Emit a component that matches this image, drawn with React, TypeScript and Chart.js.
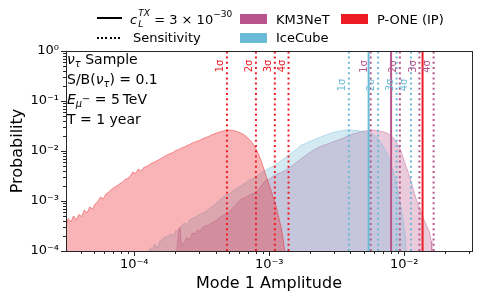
import React, { useEffect, useRef } from 'react';
import { Chart, registerables } from 'chart.js';

Chart.register(...registerables);

const FONT = '"DejaVu Sans", "Liberation Sans", sans-serif';

// Axis ranges
const X_MIN = 3.12e-5;
const X_MAX = 3.18e-2;
const Y_MIN = 1e-4;
const Y_MAX = 1;

// Histograms: [log10(Mode 1 amplitude), log10(probability)]
const PONE_HIST: [number, number][] = [
  [-4.506, -3.52], [-4.49, -3.35], [-4.47, -3.42], [-4.45, -3.30], [-4.43, -3.38], [-4.41, -3.27],
  [-4.39, -3.31], [-4.37, -3.18], [-4.35, -3.24], [-4.33, -3.12], [-4.31, -3.16], [-4.29, -3.06],
  [-4.27, -3.01], [-4.25, -2.92], [-4.23, -2.96], [-4.21, -2.86], [-4.19, -2.82], [-4.17, -2.77],
  [-4.15, -2.73], [-4.13, -2.70], [-4.11, -2.66], [-4.09, -2.63], [-4.07, -2.57], [-4.05, -2.55],
  [-4.03, -2.50], [-4.01, -2.42], [-3.99, -2.45], [-3.97, -2.36], [-3.95, -2.40], [-3.93, -2.33],
  [-3.91, -2.31], [-3.89, -2.28], [-3.87, -2.24], [-3.85, -2.22], [-3.83, -2.19], [-3.81, -2.16],
  [-3.79, -2.13], [-3.77, -2.10], [-3.75, -2.07], [-3.73, -2.05], [-3.71, -2.02], [-3.69, -1.99],
  [-3.67, -1.97], [-3.65, -1.94], [-3.63, -1.92], [-3.61, -1.89], [-3.59, -1.87], [-3.57, -1.84],
  [-3.55, -1.82], [-3.53, -1.80], [-3.51, -1.78], [-3.49, -1.75], [-3.47, -1.73], [-3.45, -1.71],
  [-3.43, -1.68], [-3.41, -1.66], [-3.39, -1.64], [-3.37, -1.62], [-3.35, -1.61], [-3.33, -1.59],
  [-3.31, -1.58], [-3.29, -1.58], [-3.27, -1.59], [-3.25, -1.60], [-3.23, -1.62], [-3.21, -1.64],
  [-3.19, -1.67], [-3.17, -1.71], [-3.15, -1.76], [-3.13, -1.82], [-3.11, -1.90], [-3.09, -2.00],
  [-3.07, -2.12], [-3.05, -2.27], [-3.03, -2.44], [-3.01, -2.60], [-2.99, -2.76], [-2.97, -2.92],
  [-2.95, -3.10], [-2.93, -3.32], [-2.91, -3.55], [-2.895, -3.80], [-2.885, -4.0],
];

const ICECUBE_HIST: [number, number][] = [
  [-3.89, -4.0], [-3.88, -3.93], [-3.87, -4.0], [-3.85, -3.86], [-3.83, -3.95], [-3.81, -3.80],
  [-3.79, -3.76], [-3.77, -3.72], [-3.75, -3.70], [-3.73, -3.66], [-3.71, -3.69], [-3.69, -3.58],
  [-3.67, -3.62], [-3.65, -3.50], [-3.63, -3.44], [-3.61, -3.47], [-3.59, -3.38], [-3.57, -3.35],
  [-3.55, -3.33], [-3.53, -3.29], [-3.51, -3.26], [-3.49, -3.24], [-3.47, -3.21], [-3.45, -3.16],
  [-3.43, -3.12], [-3.41, -3.09], [-3.39, -3.04], [-3.37, -2.99], [-3.35, -2.94], [-3.33, -2.90],
  [-3.31, -2.88], [-3.29, -2.85], [-3.27, -2.80], [-3.25, -2.77], [-3.23, -2.73], [-3.21, -2.70],
  [-3.19, -2.66], [-3.17, -2.63], [-3.15, -2.59], [-3.13, -2.56], [-3.11, -2.53], [-3.09, -2.50],
  [-3.07, -2.46], [-3.05, -2.42], [-3.03, -2.39], [-3.01, -2.36], [-2.99, -2.33], [-2.97, -2.30],
  [-2.95, -2.26], [-2.93, -2.23], [-2.91, -2.19], [-2.89, -2.15], [-2.87, -2.11], [-2.85, -2.07],
  [-2.83, -2.03], [-2.81, -1.99], [-2.79, -1.95], [-2.77, -1.89], [-2.75, -1.87], [-2.73, -1.85],
  [-2.71, -1.82], [-2.69, -1.80], [-2.67, -1.78], [-2.65, -1.75], [-2.63, -1.73], [-2.61, -1.71],
  [-2.59, -1.69], [-2.57, -1.67], [-2.55, -1.65], [-2.53, -1.63], [-2.51, -1.62], [-2.49, -1.61],
  [-2.47, -1.60], [-2.45, -1.59], [-2.43, -1.58], [-2.41, -1.58], [-2.39, -1.58], [-2.37, -1.59],
  [-2.35, -1.59], [-2.33, -1.60], [-2.31, -1.61], [-2.29, -1.62], [-2.27, -1.63], [-2.25, -1.65],
  [-2.23, -1.67], [-2.21, -1.71], [-2.19, -1.77], [-2.17, -1.85], [-2.15, -1.93], [-2.13, -2.03],
  [-2.11, -2.17], [-2.09, -2.33], [-2.07, -2.52], [-2.05, -2.76], [-2.03, -3.02], [-2.01, -3.32],
  [-1.995, -3.62], [-1.985, -4.0],
];

const KM3NET_HIST: [number, number][] = [
  [-3.684, -4.0], [-3.67, -3.55], [-3.66, -3.52], [-3.65, -3.90], [-3.63, -3.82], [-3.61, -3.72],
  [-3.59, -3.78], [-3.57, -3.64], [-3.55, -3.66], [-3.53, -3.58], [-3.51, -3.60], [-3.49, -3.52],
  [-3.47, -3.49], [-3.45, -3.50], [-3.43, -3.44], [-3.41, -3.42], [-3.39, -3.38], [-3.37, -3.34],
  [-3.35, -3.30], [-3.33, -3.27], [-3.31, -3.24], [-3.29, -3.20], [-3.27, -3.14], [-3.25, -3.08],
  [-3.23, -3.02], [-3.21, -2.97], [-3.19, -2.94], [-3.17, -2.92], [-3.15, -2.89], [-3.13, -2.86],
  [-3.11, -2.84], [-3.09, -2.80], [-3.07, -2.74], [-3.05, -2.66], [-3.03, -2.60], [-3.01, -2.57],
  [-2.99, -2.54], [-2.97, -2.50], [-2.95, -2.47], [-2.93, -2.45], [-2.91, -2.43], [-2.89, -2.40],
  [-2.87, -2.37], [-2.85, -2.33], [-2.83, -2.29], [-2.81, -2.25], [-2.79, -2.21], [-2.77, -2.17],
  [-2.75, -2.13], [-2.73, -2.09], [-2.71, -2.05], [-2.69, -2.01], [-2.67, -1.98], [-2.65, -1.95],
  [-2.63, -1.92], [-2.61, -1.90], [-2.59, -1.88], [-2.57, -1.86], [-2.55, -1.84], [-2.53, -1.82],
  [-2.51, -1.80], [-2.49, -1.78], [-2.47, -1.76], [-2.45, -1.74], [-2.43, -1.71], [-2.41, -1.69],
  [-2.39, -1.67], [-2.37, -1.65], [-2.35, -1.64], [-2.33, -1.62], [-2.31, -1.61], [-2.29, -1.60],
  [-2.27, -1.59], [-2.25, -1.58], [-2.23, -1.58], [-2.21, -1.59], [-2.19, -1.60], [-2.17, -1.61],
  [-2.15, -1.62], [-2.13, -1.64], [-2.11, -1.67], [-2.09, -1.71], [-2.07, -1.77], [-2.05, -1.86],
  [-2.03, -1.96], [-2.01, -2.11], [-1.99, -2.28], [-1.97, -2.43], [-1.95, -2.60], [-1.93, -2.79],
  [-1.91, -2.97], [-1.89, -3.12], [-1.87, -3.26], [-1.85, -3.40], [-1.83, -3.52], [-1.81, -3.64],
  [-1.80, -3.80], [-1.795, -4.0],
];

// Sensitivity thresholds (1σ..4σ) and c_L^TX = 3e-30 amplitudes
const SIGMA_LABELS = ['1σ', '2σ', '3σ', '4σ'];
const PONE_SENS = [4.86e-4, 7.97e-4, 1.10e-3, 1.39e-3];
const ICECUBE_SENS = [3.89e-3, 6.41e-3, 8.78e-3, 1.122e-2];
const KM3NET_SENS = [5.64e-3, 9.29e-3, 1.297e-2, 1.652e-2];
const PONE_SIGNAL = 1.368e-2;
const ICECUBE_SIGNAL = 5.45e-3;
const KM3NET_SIGNAL = 8.0e-3;

const PONE_RGB = '237, 28, 36';
const ICECUBE_RGB = '108, 187, 214';
const KM3NET_RGB = '184, 84, 140';

const SUP: Record<string, string> = {
  '-': '⁻', '0': '⁰', '1': '¹', '2': '²', '3': '³', '4': '⁴', '5': '⁵', '6': '⁶', '7': '⁷', '8': '⁸', '9': '⁹',
};

function powerLabel(v: number): string {
  const l = Math.log10(v);
  const r = Math.round(l);
  if (Math.abs(l - r) > 1e-6) return '';
  return '10' + String(r).split('').map((c) => SUP[c]).join('');
}

const toPoints = (h: [number, number][]) => h.map(([lx, ly]) => ({ x: Math.pow(10, lx), y: Math.pow(10, ly) }));

function vline(x: number, rgb: string, dotted: boolean) {
  return {
    data: [{ x, y: Y_MIN }, { x, y: Y_MAX }],
    borderColor: `rgb(${rgb})`,
    borderWidth: 2,
    borderDash: dotted ? [2, 3.2] : [],
    borderCapStyle: 'butt',
    pointRadius: 0,
    fill: false,
  };
}

function histDataset(h: [number, number][], rgb: string, alpha: number) {
  return {
    data: toPoints(h),
    borderColor: `rgba(${rgb}, ${alpha + 0.12})`,
    backgroundColor: `rgba(${rgb}, ${alpha})`,
    borderWidth: 1,
    pointRadius: 0,
    fill: 'start',
    tension: 0,
  };
}

const decorations = {
  id: 'decorations',
  afterDraw(chart: any) {
    const { ctx, chartArea: a } = chart;
    const xs = chart.scales.x;
    const ys = chart.scales.y;
    ctx.save();
    ctx.strokeStyle = '#262626';
    ctx.lineWidth = 1;
    ctx.beginPath();
    for (let d = -5; d <= 0; d++) {
      for (let k = 1; k <= 9; k++) {
        const v = k * Math.pow(10, d);
        const len = k === 1 ? 5 : 3;
        if (v >= X_MIN && v <= X_MAX) {
          const px = Math.round(xs.getPixelForValue(v)) + 0.5;
          ctx.moveTo(px, a.bottom);
          ctx.lineTo(px, a.bottom + len);
        }
        if (v >= Y_MIN * 0.9999 && v <= Y_MAX * 1.0001) {
          const py = Math.round(ys.getPixelForValue(v)) + 0.5;
          ctx.moveTo(a.left - len, py);
          ctx.lineTo(a.left, py);
        }
      }
    }
    ctx.stroke();
    ctx.strokeRect(Math.round(a.left) + 0.5, Math.round(a.top) + 0.5, Math.round(a.right - a.left), Math.round(a.bottom - a.top));

    ctx.font = `10px ${FONT}`;
    ctx.textAlign = 'center';
    ctx.textBaseline = 'middle';
    const drawLabels = (vals: number[], rgb: string, yOff: number) => {
      vals.forEach((v, i) => {
        const px = xs.getPixelForValue(v);
        ctx.save();
        ctx.translate(px - 6.5, a.top + yOff);
        ctx.rotate(-Math.PI / 2);
        ctx.fillStyle = `rgb(${rgb})`;
        ctx.fillText(SIGMA_LABELS[i], 0, 0);
        ctx.restore();
      });
    };
    drawLabels(PONE_SENS, PONE_RGB, 15);
    drawLabels(KM3NET_SENS, KM3NET_RGB, 15.5);
    drawLabels(ICECUBE_SENS, ICECUBE_RGB, 34);
    ctx.restore();
  },
};

const small = (t: string, dy: number, italic = false) => (
  <span style={{ fontSize: '0.7em', position: 'relative', top: dy, lineHeight: 0, fontStyle: italic ? 'italic' : 'normal' }}>{t}</span>
);

function Legend() {
  const text: React.CSSProperties = { position: 'absolute', fontFamily: FONT, fontSize: 13, lineHeight: '16px', color: '#000', whiteSpace: 'nowrap' };
  const patch = (left: number, top: number, rgb: string): React.CSSProperties => ({
    position: 'absolute', left, top, width: 27, height: 10, background: `rgb(${rgb})`,
  });
  return (
    <>
      <div style={{ position: 'absolute', left: 97, top: 17, width: 25, height: 2, background: '#000' }} />
      <div style={{ ...text, left: 130, top: 11.5 }}>
        <span style={{ fontStyle: 'italic' }}>c</span>
        <span style={{ display: 'inline-block', position: 'relative', width: 17, height: 10 }}>
          <span style={{ position: 'absolute', left: 1, top: -5, fontSize: 9, lineHeight: 1, fontStyle: 'italic' }}>TX</span>
          <span style={{ position: 'absolute', left: 1, top: 6, fontSize: 9, lineHeight: 1, fontStyle: 'italic' }}>L</span>
        </span>
        {'= 3 × 10'}
        <span style={{ fontSize: 9, position: 'relative', top: -6.5, lineHeight: 0 }}>−30</span>
      </div>
      <div style={{ position: 'absolute', left: 97, top: 37, width: 25, height: 2, background: 'repeating-linear-gradient(90deg, #000 0 2px, transparent 2px 4.2px)' }} />
      <div style={{ ...text, left: 133, top: 30 }}>Sensitivity</div>

      <div style={patch(240, 14, KM3NET_RGB)} />
      <div style={{ ...text, left: 276, top: 11.5 }}>KM3NeT</div>
      <div style={patch(240, 33, ICECUBE_RGB)} />
      <div style={{ ...text, left: 276, top: 30 }}>IceCube</div>
      <div style={patch(341, 14, PONE_RGB)} />
      <div style={{ ...text, left: 377, top: 11.5 }}>P-ONE (IP)</div>
    </>
  );
}

function InfoBox() {
  const line = (top: number): React.CSSProperties => ({
    position: 'absolute', left: 67, top, fontFamily: FONT, fontSize: 14, lineHeight: '20px', color: '#000', whiteSpace: 'nowrap',
  });
  return (
    <>
      <div style={line(49)}><i>ν</i>{small('τ', 3, true)} Sample</div>
      <div style={line(69)}>S/B(<i>ν</i>{small('τ', 3, true)}) = 0.1</div>
      <div style={line(89)}>
        <i>E</i>
        <span style={{ fontSize: '0.7em', position: 'relative', top: 3, lineHeight: 0 }}>
          <i>μ</i><span style={{ position: 'relative', top: -5 }}>−</span>
        </span>
        {' = 5\u2009TeV'}
      </div>
      <div style={line(109)}>T = 1 year</div>
    </>
  );
}

export default function App() {
  const ref = useRef<HTMLCanvasElement | null>(null);

  useEffect(() => {
    if (!ref.current) return;
    // earlier entries are drawn on top
    const datasets: any[] = [
      vline(PONE_SIGNAL, PONE_RGB, false),
      vline(KM3NET_SIGNAL, KM3NET_RGB, false),
      vline(ICECUBE_SIGNAL, ICECUBE_RGB, false),
      ...PONE_SENS.map((v) => vline(v, PONE_RGB, true)),
      ...KM3NET_SENS.map((v) => vline(v, KM3NET_RGB, true)),
      ...ICECUBE_SENS.map((v) => vline(v, ICECUBE_RGB, true)),
      histDataset(PONE_HIST, PONE_RGB, 0.33),
      histDataset(ICECUBE_HIST, ICECUBE_RGB, 0.3),
      histDataset(KM3NET_HIST, KM3NET_RGB, 0.3),
    ];
    const chart = new Chart(ref.current, {
      type: 'line',
      data: { datasets },
      options: {
        animation: false,
        responsive: false,
        devicePixelRatio: 1,
        events: [],
        layout: { padding: { top: 51, right: 7, left: 0, bottom: 0 } },
        plugins: { legend: { display: false }, tooltip: { enabled: false } },
        scales: {
          x: {
            type: 'logarithmic',
            min: X_MIN,
            max: X_MAX,
            grid: { display: false, drawTicks: false },
            border: { display: false },
            ticks: {
              autoSkip: false,
              maxRotation: 0,
              padding: 6,
              color: '#000',
              font: { family: FONT, size: 13 },
              callback: (v: any) => powerLabel(Number(v)),
            },
            title: {
              display: true,
              text: 'Mode 1 Amplitude',
              color: '#000',
              font: { family: FONT, size: 16 },
              padding: { top: 0, bottom: 6 },
            },
            afterFit: (s: any) => { s.height = 48; },
          },
          y: {
            type: 'logarithmic',
            min: Y_MIN,
            max: Y_MAX,
            grid: { display: false, drawTicks: false },
            border: { display: false },
            ticks: {
              autoSkip: false,
              padding: 7,
              color: '#000',
              font: { family: FONT, size: 13 },
              callback: (v: any) => powerLabel(Number(v)),
            },
            title: {
              display: true,
              text: 'Probability',
              color: '#000',
              font: { family: FONT, size: 16 },
              padding: { top: 8, bottom: 0 },
            },
            afterFit: (s: any) => { s.width = 66; },
          },
        },
      } as any,
      plugins: [decorations],
    });
    return () => chart.destroy();
  }, []);

  return (
    <div style={{ position: 'fixed', left: 0, top: 0, width: 479, height: 299, background: '#fff' }}>
      <canvas ref={ref} width={479} height={299} style={{ width: 479, height: 299, display: 'block' }} />
      <div style={{ position: 'absolute', left: 0, top: 0, width: 479, height: 299, pointerEvents: 'none' }}>
        <Legend />
        <InfoBox />
      </div>
    </div>
  );
}
